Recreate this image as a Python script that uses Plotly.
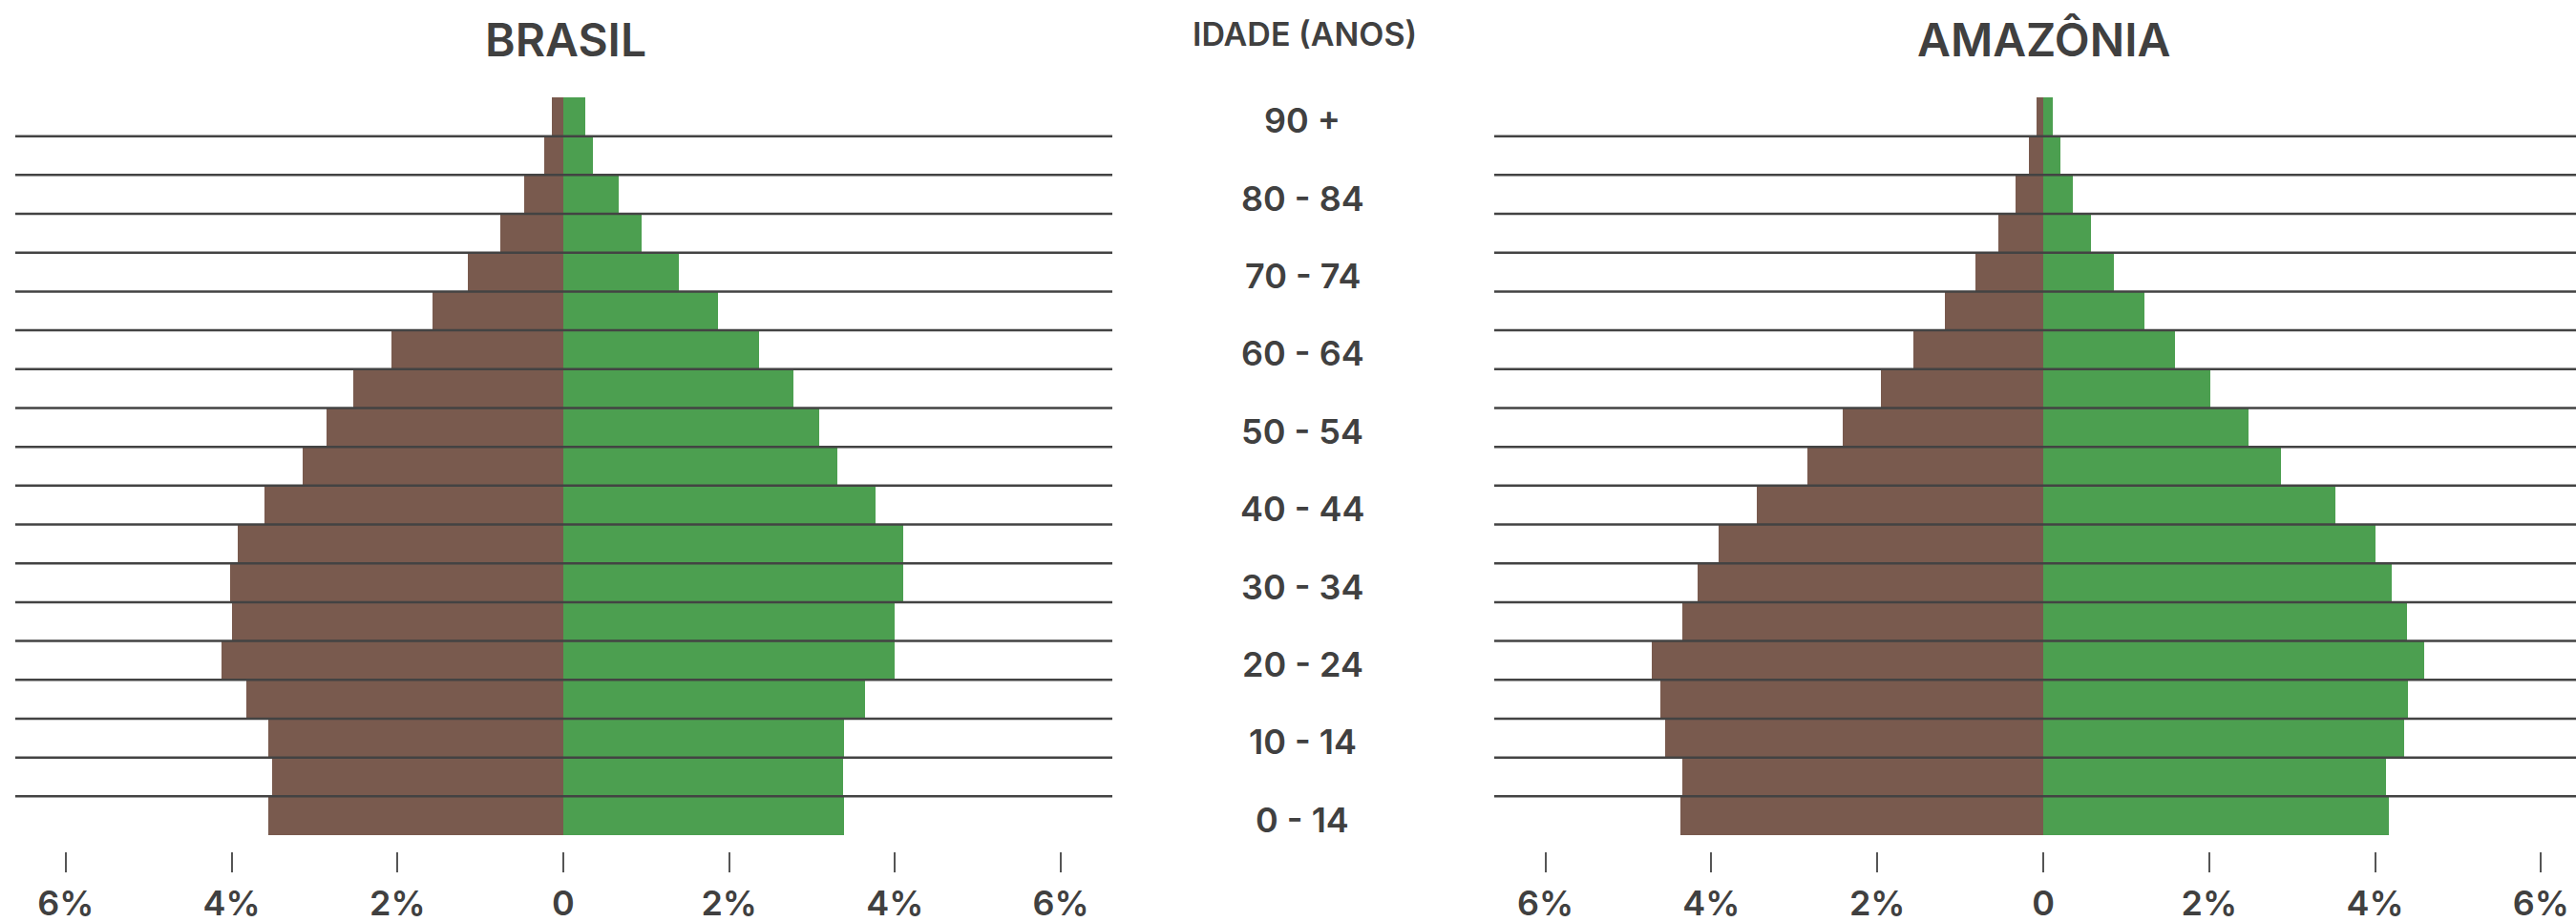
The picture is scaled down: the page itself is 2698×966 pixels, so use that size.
import plotly.graph_objects as go

# Age groups, bottom to top
idades = ["0 - 14", "5 - 9", "10 - 14", "15 - 19", "20 - 24", "25 - 29", "30 - 34",
          "35 - 39", "40 - 44", "45 - 49", "50 - 54", "55 - 59", "60 - 64", "65 - 69",
          "70 - 74", "75 - 79", "80 - 84", "85 - 89", "90 +"]

# Share of population (%) per age group
brasil_homens = [3.56, 3.51, 3.56, 3.82, 4.12, 4.00, 4.02, 3.93, 3.60, 3.14,
                 2.86, 2.53, 2.07, 1.58, 1.15, 0.76, 0.47, 0.23, 0.14]
brasil_mulheres = [3.39, 3.37, 3.39, 3.64, 4.00, 4.00, 4.10, 4.10, 3.76, 3.30,
                   3.09, 2.78, 2.36, 1.86, 1.39, 0.94, 0.67, 0.36, 0.26]
amazonia_homens = [4.37, 4.35, 4.56, 4.61, 4.72, 4.35, 4.17, 3.91, 3.45, 2.84,
                   2.42, 1.96, 1.56, 1.19, 0.82, 0.54, 0.33, 0.17, 0.08]
amazonia_mulheres = [4.16, 4.13, 4.35, 4.40, 4.59, 4.38, 4.20, 4.01, 3.52, 2.87,
                     2.47, 2.01, 1.59, 1.22, 0.85, 0.58, 0.36, 0.21, 0.12]

tick_vals = [-6, -4, -2, 0, 2, 4, 6]
tick_text = ["6%", "4%", "2%", "0", "2%", "4%", "6%"]

COR_H = "#795a4e"
COR_M = "#4c9f50"
TXT = "#404040"
FONT = "Inter"

W, H = 2698, 966
M_TOP, M_BOT = 102, 74
PLOT_H = H - M_TOP - M_BOT
pos = list(range(len(idades)))


def paper_y(px_from_top):
    """Convert a pixel row (from the top of the page) to paper y."""
    return (H - M_BOT - px_from_top) / PLOT_H


fig = go.Figure()
for xa, ya, hom, mul in [("x", "y", brasil_homens, brasil_mulheres),
                         ("x2", "y2", amazonia_homens, amazonia_mulheres)]:
    fig.add_trace(go.Bar(y=pos, x=[-v for v in hom], orientation="h", width=1,
                         marker=dict(color=COR_H, line=dict(width=0)),
                         name="Homens", xaxis=xa, yaxis=ya, showlegend=False))
    fig.add_trace(go.Bar(y=pos, x=mul, orientation="h", width=1,
                         marker=dict(color=COR_M, line=dict(width=0)),
                         name="Mulheres", xaxis=xa, yaxis=ya, showlegend=False))

y_rng = [-0.5 - 17 / 40.7, len(idades) - 0.5]

xcommon = dict(tickmode="array", tickvals=tick_vals, ticktext=tick_text,
               ticks="outside", ticklen=21, tickwidth=2, tickcolor="#555555",
               ticklabelstandoff=2, automargin=False,
               showgrid=False, zeroline=False, showline=False,
               tickfont=dict(family=FONT, size=36, color=TXT, weight=600),
               fixedrange=True)
ycommon = dict(range=y_rng, domain=[0, 1], showgrid=False, zeroline=False,
               showline=False, showticklabels=False, ticks="", fixedrange=True,
               automargin=False)

fig.update_layout(
    width=W, height=H,
    margin=dict(l=0, r=0, t=M_TOP, b=M_BOT, pad=0),
    paper_bgcolor="white", plot_bgcolor="white",
    barmode="relative", bargap=0,
    xaxis=dict(domain=[16 / W, 1165 / W], range=[-6.609, 6.621], anchor="y", **xcommon),
    yaxis=dict(anchor="x", **ycommon),
    xaxis2=dict(domain=[1565 / W, 1.0], range=[-6.617, 6.421], anchor="y2", **xcommon),
    yaxis2=dict(anchor="x2", **ycommon),
)

# Separator lines between age groups, drawn over the bars
for yr in ["y", "y2"]:
    xr = "x domain" if yr == "y" else "x2 domain"
    for k in range(len(idades) - 1):
        fig.add_shape(type="line", xref=xr, yref=yr, x0=0, x1=1, y0=k + 0.5, y1=k + 0.5,
                      line=dict(color="#434343", width=2.5), layer="above")

# Panel titles
fig.add_annotation(text="BRASIL", xref="paper", yref="paper", x=592 / W, y=paper_y(41),
                   showarrow=False, xanchor="center", yanchor="middle",
                   font=dict(family=FONT, size=48, color=TXT, weight=600))
fig.add_annotation(text="AMAZÔNIA", xref="paper", yref="paper", x=2140 / W, y=paper_y(41),
                   showarrow=False, xanchor="center", yanchor="middle",
                   font=dict(family=FONT, size=48, color=TXT, weight=600))
fig.add_annotation(text="IDADE (ANOS)", xref="paper", yref="paper", x=1366 / W, y=paper_y(35),
                   showarrow=False, xanchor="center", yanchor="middle",
                   font=dict(family=FONT, size=34, color=TXT, weight=600))

# Age labels in the middle column, every other group
for i, lab in enumerate(idades):
    if i % 2 == 0:
        fig.add_annotation(text=lab, xref="paper", yref="y", x=1364 / W, y=i, yshift=-4,
                           showarrow=False, xanchor="center", yanchor="middle",
                           font=dict(family=FONT, size=36, color=TXT, weight=600))

fig.write_html("out.html", config={"displayModeBar": False})
